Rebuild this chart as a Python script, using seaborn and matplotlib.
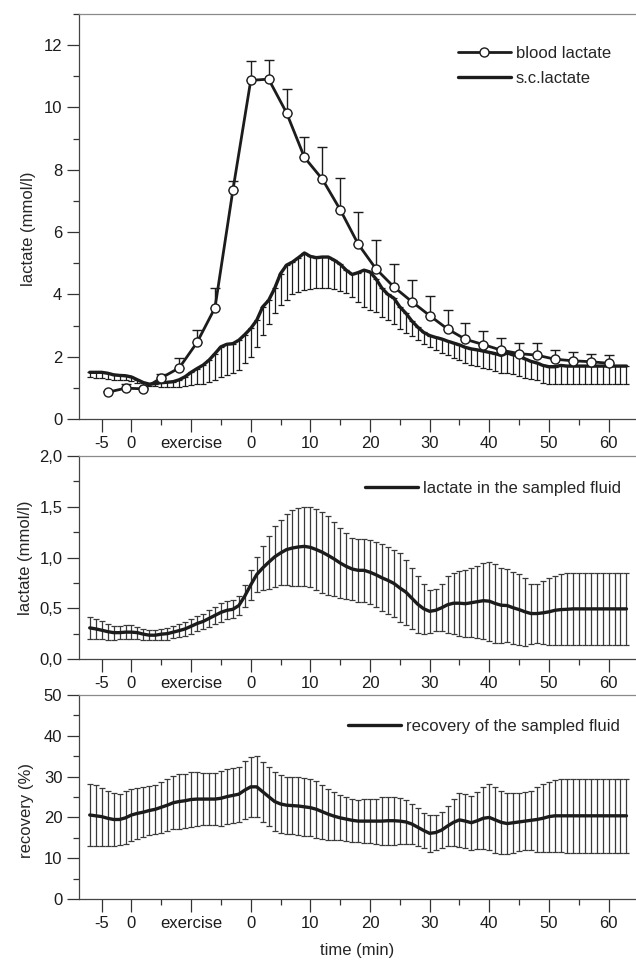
import numpy as np
import matplotlib
matplotlib.use('Agg')
import matplotlib.pyplot as plt
from matplotlib.ticker import FixedLocator, MultipleLocator, FuncFormatter
import seaborn as sns

sns.set_style("ticks")
plt.rcParams['font.family'] = ['Liberation Sans', 'DejaVu Sans']
plt.rcParams.update({'font.size': 12, 'axes.linewidth': 0.9})

INK = '#1c1c1c'

# ── Time axis (continuous): -25 = "-5", -20 = "0" pre, exercise, then 0..60 min post ──
minutos = np.arange(-27, 64)

# ── Blood lactate (mean, upper SD), sampled every 3 min ──
blood_t = [-24, -21, -18, -15, -12, -9, -6, -3, 0, 3, 6, 9, 12, 15, 18, 21, 24,
           27, 30, 33, 36, 39, 42, 45, 48, 51, 54, 57, 60]
blood_mean = [0.86, 0.99, 0.97, 1.32, 1.64, 2.46, 3.57, 7.34, 10.87, 10.91, 9.83, 8.40,
              7.70, 6.72, 5.62, 4.82, 4.24, 3.77, 3.32, 2.89, 2.56, 2.39, 2.21, 2.10,
              2.05, 1.92, 1.87, 1.84, 1.79]
blood_sd = [0.03, 0.12, 0.03, 0.12, 0.31, 0.39, 0.65, 0.29, 0.63, 0.63, 0.77, 0.65,
            1.03, 1.03, 1.02, 0.92, 0.73, 0.69, 0.64, 0.60, 0.53, 0.44, 0.38, 0.35,
            0.38, 0.31, 0.29, 0.26, 0.25]

# ── s.c. lactate (mean and lower SD bound), every minute ──
sc_mean = [1.50, 1.50, 1.50, 1.47, 1.42, 1.40, 1.39, 1.35, 1.26, 1.17,
           1.12, 1.14, 1.17, 1.18, 1.20, 1.26, 1.36, 1.50, 1.62, 1.73,
           1.89, 2.10, 2.32, 2.40, 2.42, 2.53, 2.71, 2.91, 3.17, 3.60,
           3.81, 4.19, 4.67, 4.94, 5.04, 5.18, 5.33, 5.22, 5.18, 5.20,
           5.20, 5.10, 4.97, 4.78, 4.64, 4.70, 4.78, 4.72, 4.50, 4.20,
           4.00, 3.88, 3.60, 3.40, 3.15, 2.95, 2.78, 2.68, 2.62, 2.57,
           2.50, 2.44, 2.38, 2.30, 2.25, 2.22, 2.18, 2.14, 2.10, 2.04,
           2.12, 2.06, 2.03, 1.93, 1.85, 1.80, 1.72, 1.68, 1.68, 1.72,
           1.70, 1.70, 1.70, 1.70, 1.70, 1.70, 1.70, 1.70, 1.70, 1.70, 1.70]
sc_lower = [1.34, 1.31, 1.31, 1.28, 1.25, 1.25, 1.26, 1.23, 1.17, 1.08,
            1.07, 1.05, 1.04, 1.02, 1.02, 1.04, 1.06, 1.08, 1.11, 1.14,
            1.20, 1.26, 1.34, 1.42, 1.47, 1.58, 1.79, 2.00, 2.30, 2.69,
            3.06, 3.39, 3.65, 3.83, 4.00, 4.08, 4.13, 4.17, 4.19, 4.19,
            4.19, 4.16, 4.11, 4.03, 3.92, 3.75, 3.60, 3.50, 3.42, 3.28,
            3.17, 3.06, 2.90, 2.77, 2.65, 2.53, 2.40, 2.30, 2.22, 2.12,
            2.05, 1.96, 1.88, 1.80, 1.75, 1.70, 1.65, 1.60, 1.55, 1.49,
            1.47, 1.43, 1.38, 1.33, 1.29, 1.25, 1.15, 1.11, 1.12, 1.14,
            1.14, 1.14, 1.14, 1.14, 1.14, 1.14, 1.14, 1.14, 1.14, 1.14, 1.14]

# ── Lactate in the sampled fluid (mean, SD) ──
fluid_mean = [0.307, 0.297, 0.284, 0.270, 0.260, 0.260, 0.265, 0.265, 0.260, 0.245,
              0.235, 0.235, 0.245, 0.250, 0.265, 0.280, 0.297, 0.323, 0.350, 0.370,
              0.400, 0.430, 0.460, 0.480, 0.490, 0.527, 0.620, 0.730, 0.832, 0.897,
              0.953, 1.006, 1.045, 1.078, 1.094, 1.104, 1.110, 1.100, 1.078, 1.052,
              1.020, 0.985, 0.946, 0.913, 0.887, 0.874, 0.874, 0.855, 0.830, 0.800,
              0.775, 0.745, 0.700, 0.660, 0.600, 0.540, 0.495, 0.470, 0.480, 0.505,
              0.535, 0.550, 0.550, 0.545, 0.555, 0.565, 0.575, 0.570, 0.547, 0.530,
              0.527, 0.505, 0.487, 0.465, 0.448, 0.448, 0.455, 0.465, 0.480, 0.487,
              0.490, 0.494, 0.494, 0.494, 0.494, 0.494, 0.494, 0.494, 0.494, 0.494, 0.494]
fluid_sd = [0.105, 0.100, 0.090, 0.080, 0.070, 0.065, 0.070, 0.070, 0.060, 0.055,
            0.050, 0.050, 0.055, 0.060, 0.060, 0.065, 0.070, 0.075, 0.070, 0.075,
            0.085, 0.085, 0.095, 0.090, 0.090, 0.090, 0.110, 0.150, 0.175, 0.220,
            0.260, 0.300, 0.320, 0.350, 0.370, 0.380, 0.390, 0.395, 0.400, 0.400,
            0.385, 0.360, 0.345, 0.325, 0.310, 0.310, 0.310, 0.315, 0.320, 0.330,
            0.330, 0.330, 0.340, 0.320, 0.300, 0.280, 0.245, 0.210, 0.205, 0.230,
            0.280, 0.300, 0.320, 0.330, 0.340, 0.355, 0.375, 0.390, 0.390, 0.370,
            0.360, 0.355, 0.350, 0.335, 0.295, 0.290, 0.310, 0.330, 0.340, 0.350,
            0.355, 0.358, 0.358, 0.358, 0.358, 0.358, 0.358, 0.358, 0.358, 0.358, 0.358]

# ── Recovery of the sampled fluid (%), mean and SD ──
recov_mean = [20.6, 20.4, 20.2, 19.8, 19.5, 19.5, 19.9, 20.6, 21.0, 21.3,
              21.7, 22.0, 22.5, 23.0, 23.6, 23.9, 24.1, 24.4, 24.5, 24.5,
              24.5, 24.5, 24.7, 25.1, 25.4, 25.7, 26.7, 27.5, 27.5, 26.3,
              25.1, 23.9, 23.3, 23.0, 22.9, 22.8, 22.6, 22.4, 22.0, 21.4,
              20.8, 20.3, 19.9, 19.6, 19.3, 19.1, 19.1, 19.1, 19.1, 19.1,
              19.2, 19.2, 19.1, 18.9, 18.4, 17.6, 16.8, 16.1, 16.3, 16.9,
              17.9, 18.8, 19.4, 19.1, 18.7, 19.2, 19.8, 20.0, 19.4, 18.8,
              18.5, 18.7, 18.9, 19.1, 19.3, 19.5, 19.8, 20.2, 20.4, 20.4,
              20.4, 20.4, 20.4, 20.4, 20.4, 20.4, 20.4, 20.4, 20.4, 20.4, 20.4]
recov_sd = [7.60, 7.50, 7.10, 6.75, 6.40, 6.20, 6.50, 6.45, 6.25, 6.10,
            6.00, 5.95, 6.25, 6.30, 6.50, 6.65, 6.65, 6.75, 6.65, 6.45,
            6.40, 6.40, 6.70, 6.80, 6.70, 6.75, 7.05, 7.35, 7.50, 7.30,
            7.20, 7.20, 7.00, 7.00, 7.05, 7.05, 7.05, 7.05, 6.95, 6.65,
            6.25, 5.85, 5.55, 5.35, 5.20, 5.20, 5.30, 5.40, 5.50, 5.80,
            5.90, 5.90, 5.70, 5.30, 5.00, 4.60, 4.40, 4.50, 4.30, 4.40,
            4.90, 5.80, 6.70, 6.70, 6.60, 7.00, 7.60, 8.10, 8.10, 7.80,
            7.50, 7.30, 7.20, 7.10, 7.30, 7.90, 8.30, 8.60, 8.80, 8.90,
            9.10, 9.10, 9.10, 9.10, 9.10, 9.10, 9.10, 9.10, 9.10, 9.10, 9.10]

# ── x ticks ──
xt_major = [-25, -20, -10, 0, 10, 20, 30, 40, 50, 60]
xt_labels = ['-5', '0', 'exercise', '0', '10', '20', '30', '40', '50', '60']
xt_minor = [-15, -5, 5, 15, 25, 35, 45, 55]

fig = plt.figure(figsize=(6.36, 9.6), dpi=100)
ax1 = fig.add_axes([0.1242, 0.5635, 0.8758, 0.4219])
ax2 = fig.add_axes([0.1242, 0.3135, 0.8758, 0.2115])
ax3 = fig.add_axes([0.1242, 0.0635, 0.8758, 0.2125])


def estilo(ax, ymax, major, minor):
    ax.set_xlim(-28.8, 64.6)
    ax.set_ylim(0, ymax)
    ax.xaxis.set_major_locator(FixedLocator(xt_major))
    ax.set_xticklabels(xt_labels)
    ax.xaxis.set_minor_locator(FixedLocator(xt_minor))
    ax.yaxis.set_major_locator(MultipleLocator(major))
    ax.yaxis.set_minor_locator(MultipleLocator(minor))
    ax.tick_params(which='major', length=9, width=0.9, color='#333', labelsize=12,
                   labelcolor=INK, pad=3)
    ax.tick_params(which='minor', length=4, width=0.9, color='#333')
    ax.spines['right'].set_visible(False)
    ax.spines['top'].set_color('#8a8a8a')
    for s in ['left', 'bottom']:
        ax.spines[s].set_color('#444')


# ── Panel 1: blood vs s.c. lactate ──
sc_err = np.array(sc_mean) - np.array(sc_lower)
ax1.errorbar(minutos, sc_mean, yerr=[sc_err, np.zeros(len(sc_err))], fmt='none',
             ecolor=INK, elinewidth=0.9, capsize=2.5, capthick=0.9, zorder=2)
ax1.errorbar(blood_t, blood_mean, yerr=[np.zeros(len(blood_sd)), blood_sd], fmt='none',
             ecolor=INK, elinewidth=1.0, capsize=3.5, capthick=1.0, zorder=2)
sns.lineplot(x=minutos, y=sc_mean, ax=ax1, color=INK, lw=2.4, errorbar=None, zorder=3)
h_sc = ax1.lines[-1]
sns.lineplot(x=blood_t, y=blood_mean, ax=ax1, color=INK, lw=2.0, errorbar=None,
             marker='o', markersize=6.5, markerfacecolor='white',
             markeredgecolor=INK, markeredgewidth=1.0, zorder=4)
h_blood = ax1.lines[-1]
estilo(ax1, 13, 2, 1)
ax1.set_ylabel('lactate (mmol/l)', fontsize=12)
ax1.yaxis.set_label_coords(-0.077, 0.47)
ax1.legend([h_blood, h_sc], ['blood lactate', 's.c.lactate'], loc='upper left',
           bbox_to_anchor=(0.680, 0.922), frameon=False, borderpad=0, borderaxespad=0,
           handlelength=3.2, handletextpad=0.3, labelspacing=0.62, fontsize=12)

# ── Panel 2: lactate in the sampled fluid ──
ax2.errorbar(minutos, fluid_mean, yerr=fluid_sd, fmt='none', ecolor='#3a3a3a',
             elinewidth=0.9, capsize=2.5, capthick=0.9, zorder=2)
sns.lineplot(x=minutos, y=fluid_mean, ax=ax2, color=INK, lw=2.4, errorbar=None, zorder=3)
h_fl = ax2.lines[-1]
estilo(ax2, 2.0, 0.5, 0.25)
ax2.yaxis.set_major_formatter(FuncFormatter(lambda v, p: f'{v:.1f}'.replace('.', ',')))
ax2.set_ylabel('lactate (mmol/l)', fontsize=12)
ax2.yaxis.set_label_coords(-0.083, 0.5)
ax2.legend([h_fl], ['lactate in the sampled fluid'], loc='upper left',
           bbox_to_anchor=(0.513, 0.876), frameon=False, borderpad=0, borderaxespad=0,
           handlelength=3.2, handletextpad=0.3, fontsize=12)

# ── Panel 3: recovery ──
ax3.errorbar(minutos, recov_mean, yerr=recov_sd, fmt='none', ecolor='#3a3a3a',
             elinewidth=0.9, capsize=2.5, capthick=0.9, zorder=2)
sns.lineplot(x=minutos, y=recov_mean, ax=ax3, color=INK, lw=2.4, errorbar=None, zorder=3)
h_rc = ax3.lines[-1]
estilo(ax3, 50, 10, 5)
ax3.set_ylabel('recovery (%)', fontsize=12)
ax3.yaxis.set_label_coords(-0.08, 0.436)
ax3.set_xlabel('time (min)', fontsize=12, labelpad=9)
ax3.legend([h_rc], ['recovery of the sampled fluid'], loc='upper left',
           bbox_to_anchor=(0.483, 0.885), frameon=False, borderpad=0, borderaxespad=0,
           handlelength=3.2, handletextpad=0.3, fontsize=12)

fig.savefig('out.png', dpi=100)
